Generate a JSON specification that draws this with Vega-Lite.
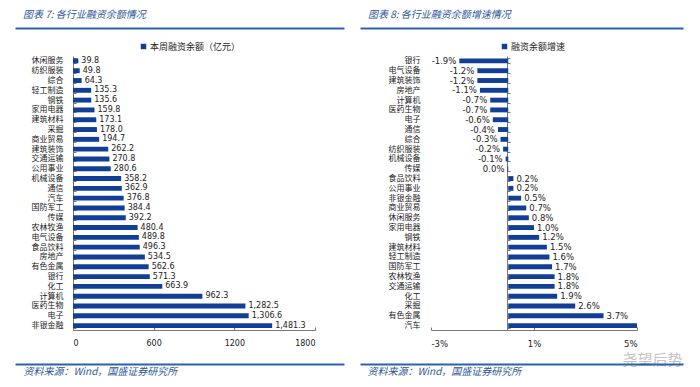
{
  "$schema": "https://vega.github.io/schema/vega-lite/v6.json",
  "padding": {"left": 15, "top": 10, "right": 0, "bottom": 0},
  "spacing": 16,
  "background": "white",
  "config": {"view": {"stroke": null}, "font": "Noto Sans CJK SC",
    "locale": {"number": {"decimal": ".", "thousands": ",", "grouping": [3], "currency": ["$", ""], "minus": "-"}}},
  "resolve": {"scale": {"color": "independent"}, "legend": {"color": "independent"}},
  "datasets": {
    "amt": [
      {"ind": "休闲服务", "v": 39.8},
      {"ind": "纺织服装", "v": 49.8},
      {"ind": "综合", "v": 64.3},
      {"ind": "轻工制造", "v": 135.3},
      {"ind": "钢铁", "v": 135.6},
      {"ind": "家用电器", "v": 159.8},
      {"ind": "建筑材料", "v": 173.1},
      {"ind": "采掘", "v": 178.0},
      {"ind": "商业贸易", "v": 194.7},
      {"ind": "建筑装饰", "v": 262.2},
      {"ind": "交通运输", "v": 270.8},
      {"ind": "公用事业", "v": 280.6},
      {"ind": "机械设备", "v": 358.2},
      {"ind": "通信", "v": 362.9},
      {"ind": "汽车", "v": 376.8},
      {"ind": "国防军工", "v": 384.4},
      {"ind": "传媒", "v": 392.2},
      {"ind": "农林牧渔", "v": 480.4},
      {"ind": "电气设备", "v": 489.8},
      {"ind": "食品饮料", "v": 496.3},
      {"ind": "房地产", "v": 534.5},
      {"ind": "有色金属", "v": 562.6},
      {"ind": "银行", "v": 571.3},
      {"ind": "化工", "v": 663.9},
      {"ind": "计算机", "v": 962.3},
      {"ind": "医药生物", "v": 1282.5},
      {"ind": "电子", "v": 1306.6},
      {"ind": "非银金融", "v": 1481.3}
    ],
    "grow": [
      {"ind": "银行", "v": -0.019},
      {"ind": "电气设备", "v": -0.012},
      {"ind": "建筑装饰", "v": -0.012},
      {"ind": "房地产", "v": -0.011},
      {"ind": "计算机", "v": -0.007},
      {"ind": "医药生物", "v": -0.007},
      {"ind": "电子", "v": -0.006},
      {"ind": "通信", "v": -0.004},
      {"ind": "综合", "v": -0.003},
      {"ind": "纺织服装", "v": -0.002},
      {"ind": "机械设备", "v": -0.001},
      {"ind": "传媒", "v": -0.0003},
      {"ind": "食品饮料", "v": 0.002},
      {"ind": "公用事业", "v": 0.002},
      {"ind": "非银金融", "v": 0.005},
      {"ind": "商业贸易", "v": 0.007},
      {"ind": "休闲服务", "v": 0.008},
      {"ind": "家用电器", "v": 0.010},
      {"ind": "钢铁", "v": 0.012},
      {"ind": "建筑材料", "v": 0.015},
      {"ind": "轻工制造", "v": 0.016},
      {"ind": "国防军工", "v": 0.017},
      {"ind": "农林牧渔", "v": 0.018},
      {"ind": "交通运输", "v": 0.018},
      {"ind": "化工", "v": 0.019},
      {"ind": "采掘", "v": 0.026},
      {"ind": "有色金属", "v": 0.037},
      {"ind": "汽车", "v": 0.05}
    ]
  },
  "hconcat": [
    {
      "width": 329,
      "height": 336,
      "title": {"text": "图表 7:  各行业融资余额情况", "anchor": "start", "frame": "group", "dx": 8, "offset": 4, "fontSize": 10, "fontStyle": "italic", "fontWeight": "normal", "color": "#2B579A", "font": "Noto Sans CJK SC"},
      "data": {"name": "amt"},
      "resolve": {"scale": {"x": "independent"}, "axis": {"x": "independent"}},
      "layer": [
        {
          "encoding": {
            "y": {"field": "ind", "type": "nominal", "sort": null,
              "scale": {"range": [28, 302.5], "paddingInner": 0.5, "paddingOuter": 0.25},
              "axis": {"title": null, "orient": "left", "offset": -58, "domainColor": "#777", "tickColor": "#777", "tickSize": -3, "tickBand": "extent", "labelPadding": 13, "labelFont": "Noto Sans CJK SC", "labelFontSize": 8, "labelColor": "#222"}},
            "x": {"field": "v", "type": "quantitative",
              "scale": {"domain": [0, 1800], "range": [58, 300], "nice": false, "zero": true},
              "axis": {"title": null, "orient": "bottom", "offset": -34, "values": [0, 600, 1200, 1800], "format": "d", "grid": false, "domainColor": "#777", "tickColor": "#777", "tickSize": -3, "labelPadding": 12, "labelFont": "DejaVu Sans", "labelFontSize": 8, "labelColor": "#222"}}
          },
          "layer": [
            {"mark": {"type": "bar", "color": "#113F97"},
             "encoding": {"color": {"datum": "本周融资余额（亿元）", "type": "nominal", "scale": {"range": ["#113F97"]},
               "legend": {"title": null, "orient": "none", "legendX": 124, "legendY": 14, "padding": 0, "symbolType": "square", "symbolSize": 30, "labelFont": "Noto Sans CJK SC", "labelFontSize": 9, "labelColor": "#222", "labelOffset": 2}}}},
            {"mark": {"type": "text", "align": "left", "dx": 3, "font": "DejaVu Sans", "fontSize": 8, "color": "#222"},
             "encoding": {"text": {"field": "v", "type": "quantitative", "format": ",.1f"}}}
          ]
        },
        {"mark": {"type": "point", "opacity": 0},
         "encoding": {"x": {"field": "v", "type": "quantitative",
           "axis": {"orient": "top", "domain": true, "domainColor": "#2F5EB5", "domainWidth": 2, "labels": false, "ticks": false, "grid": false, "title": null}}}},
        {"mark": {"type": "point", "opacity": 0},
         "encoding": {"x": {"field": "v", "type": "quantitative",
           "axis": {"orient": "bottom", "domain": true, "domainColor": "#2F5EB5", "domainWidth": 2, "labels": false, "ticks": false, "grid": false,
             "title": "资料来源：Wind，国盛证券研究所", "titleAnchor": "start", "titleAlign": "left", "titleX": 8, "titlePadding": 2, "titleFont": "Noto Sans CJK SC", "titleFontSize": 10, "titleFontStyle": "italic", "titleFontWeight": "normal", "titleColor": "#2B579A"}}}}
      ]
    },
    {
      "width": 323,
      "height": 336,
      "title": {"text": "图表 8:  各行业融资余额增速情况", "anchor": "start", "frame": "group", "dx": 8, "offset": 4, "fontSize": 10, "fontStyle": "italic", "fontWeight": "normal", "color": "#2B579A", "font": "Noto Sans CJK SC"},
      "data": {"name": "grow"},
      "resolve": {"scale": {"x": "independent"}, "axis": {"x": "independent"}},
      "layer": [
        {
          "encoding": {
            "y": {"field": "ind", "type": "nominal", "sort": null,
              "scale": {"range": [28, 302.5], "paddingInner": 0.5, "paddingOuter": 0.25},
              "axis": {"title": null, "orient": "left", "offset": -147, "domainColor": "#777", "tickColor": "#777", "tickSize": -3, "tickBand": "extent", "labelPadding": 90, "labelFont": "Noto Sans CJK SC", "labelFontSize": 8, "labelColor": "#222"}},
            "x": {"field": "v", "type": "quantitative",
              "scale": {"domain": [-0.03, 0.05], "range": [71, 277], "nice": false, "zero": true},
              "axis": {"title": "尧望后势", "titleAnchor": "end", "titleAlign": "right", "titleBaseline": "alphabetic", "titleX": 322, "titleY": 34, "titleFont": "Noto Sans CJK SC", "titleFontSize": 15, "titleFontWeight": "normal", "titleColor": "#c4c4c4", "orient": "bottom", "offset": -34, "values": [-0.03, 0.01, 0.05], "format": ".0%", "grid": false, "domainColor": "#777", "tickColor": "#777", "tickSize": -3, "labelPadding": 12, "labelFont": "DejaVu Sans", "labelFontSize": 8.5, "labelColor": "#222"}}
          },
          "layer": [
            {"mark": {"type": "bar", "color": "#113F97"},
             "encoding": {"color": {"datum": "融资余额增速", "type": "nominal", "scale": {"range": ["#113F97"]},
               "legend": {"title": null, "orient": "none", "legendX": 140, "legendY": 14, "padding": 0, "symbolType": "square", "symbolSize": 30, "labelFont": "Noto Sans CJK SC", "labelFontSize": 9, "labelColor": "#222", "labelOffset": 2}}}},
            {"transform": [{"filter": "datum.v <= 0"}],
             "mark": {"type": "text", "align": "right", "dx": -3, "font": "DejaVu Sans", "fontSize": 8.5, "color": "#222"},
             "encoding": {"text": {"field": "v", "type": "quantitative", "format": ".1%"}}},
            {"transform": [{"filter": "datum.v > 0 && datum.v < 0.05"}],
             "mark": {"type": "text", "align": "left", "dx": 3, "font": "DejaVu Sans", "fontSize": 8.5, "color": "#222"},
             "encoding": {"text": {"field": "v", "type": "quantitative", "format": ".1%"}}}
          ]
        },
        {"mark": {"type": "point", "opacity": 0},
         "encoding": {"x": {"field": "v", "type": "quantitative",
           "axis": {"orient": "top", "domain": true, "domainColor": "#2F5EB5", "domainWidth": 2, "labels": false, "ticks": false, "grid": false, "title": null}}}},
        {"mark": {"type": "point", "opacity": 0},
         "encoding": {"x": {"field": "v", "type": "quantitative",
           "axis": {"orient": "bottom", "domain": true, "domainColor": "#2F5EB5", "domainWidth": 2, "labels": false, "ticks": false, "grid": false,
             "title": "资料来源：Wind，国盛证券研究所", "titleAnchor": "start", "titleAlign": "left", "titleX": 7, "titlePadding": 2, "titleFont": "Noto Sans CJK SC", "titleFontSize": 10, "titleFontStyle": "italic", "titleFontWeight": "normal", "titleColor": "#2B579A"}}}}
      ]
    }
  ]
}
